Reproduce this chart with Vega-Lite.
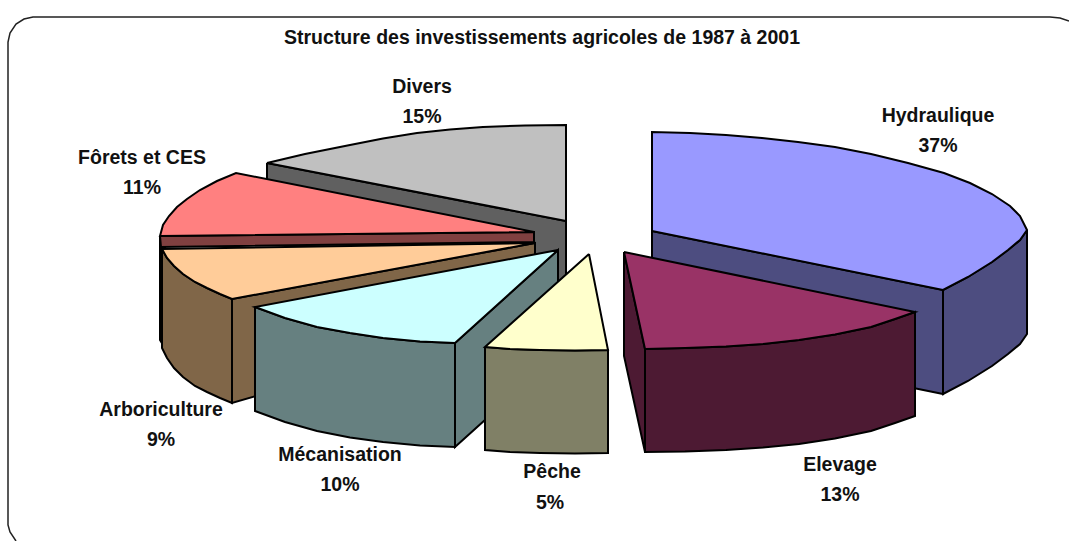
{"$schema":"https://vega.github.io/schema/vega-lite/v6.json","width":1069,"height":541,"autosize":"none","padding":0,"background":"white","config":{"view":{"stroke":null}},
"layer":[
{"data":{"values":[
{"face":"Divers cote","k":1,"x":267,"y":163},{"face":"Divers cote","k":2,"x":566,"y":221},{"face":"Divers cote","k":3,"x":566,"y":277},{"face":"Divers cote","k":4,"x":540,"y":300},{"face":"Divers cote","k":5,"x":267,"y":240},{"face":"Divers cote","k":6,"x":267,"y":163},
{"face":"Divers dessus","k":1,"x":566,"y":221},{"face":"Divers dessus","k":2,"x":566,"y":125},{"face":"Divers dessus","k":3,"x":525,"y":125.5},{"face":"Divers dessus","k":4,"x":483,"y":127},{"face":"Divers dessus","k":5,"x":450,"y":129.5},{"face":"Divers dessus","k":6,"x":417,"y":133},{"face":"Divers dessus","k":7,"x":383,"y":138.5},{"face":"Divers dessus","k":8,"x":350,"y":145},{"face":"Divers dessus","k":9,"x":305,"y":154},{"face":"Divers dessus","k":10,"x":267,"y":163},{"face":"Divers dessus","k":11,"x":566,"y":221},
{"face":"Hydraulique interne","k":1,"x":652,"y":231},{"face":"Hydraulique interne","k":2,"x":943,"y":290},{"face":"Hydraulique interne","k":3,"x":943,"y":394},{"face":"Hydraulique interne","k":4,"x":652,"y":335},{"face":"Hydraulique interne","k":5,"x":652,"y":231},
{"face":"Hydraulique externe","k":1,"x":1027,"y":230},{"face":"Hydraulique externe","k":2,"x":1027,"y":334},{"face":"Hydraulique externe","k":3,"x":1020,"y":344},{"face":"Hydraulique externe","k":4,"x":1008,"y":354},{"face":"Hydraulique externe","k":5,"x":992,"y":366},{"face":"Hydraulique externe","k":6,"x":968,"y":381},{"face":"Hydraulique externe","k":7,"x":943,"y":394},{"face":"Hydraulique externe","k":8,"x":943,"y":290},{"face":"Hydraulique externe","k":9,"x":968,"y":277},{"face":"Hydraulique externe","k":10,"x":992,"y":262},{"face":"Hydraulique externe","k":11,"x":1008,"y":250},{"face":"Hydraulique externe","k":12,"x":1020,"y":240},{"face":"Hydraulique externe","k":13,"x":1027,"y":230},
{"face":"Hydraulique dessus","k":1,"x":652,"y":231},{"face":"Hydraulique dessus","k":2,"x":652,"y":132},{"face":"Hydraulique dessus","k":3,"x":690,"y":133},{"face":"Hydraulique dessus","k":4,"x":726,"y":135},{"face":"Hydraulique dessus","k":5,"x":762,"y":138},{"face":"Hydraulique dessus","k":6,"x":798,"y":142},{"face":"Hydraulique dessus","k":7,"x":835,"y":147},{"face":"Hydraulique dessus","k":8,"x":871,"y":154},{"face":"Hydraulique dessus","k":9,"x":908,"y":163},{"face":"Hydraulique dessus","k":10,"x":944,"y":173},{"face":"Hydraulique dessus","k":11,"x":970,"y":183},{"face":"Hydraulique dessus","k":12,"x":992,"y":194},{"face":"Hydraulique dessus","k":13,"x":1010,"y":206},{"face":"Hydraulique dessus","k":14,"x":1020,"y":216},{"face":"Hydraulique dessus","k":15,"x":1027,"y":230},{"face":"Hydraulique dessus","k":16,"x":1020,"y":240},{"face":"Hydraulique dessus","k":17,"x":1008,"y":250},{"face":"Hydraulique dessus","k":18,"x":992,"y":262},{"face":"Hydraulique dessus","k":19,"x":968,"y":277},{"face":"Hydraulique dessus","k":20,"x":943,"y":290},{"face":"Hydraulique dessus","k":21,"x":652,"y":231},
{"face":"Forets externe","k":1,"x":160,"y":236},{"face":"Forets externe","k":2,"x":160,"y":340},{"face":"Forets externe","k":3,"x":166,"y":350},{"face":"Forets externe","k":4,"x":166,"y":250},{"face":"Forets externe","k":5,"x":160,"y":236},
{"face":"Forets interne","k":1,"x":160,"y":236},{"face":"Forets interne","k":2,"x":534,"y":232},{"face":"Forets interne","k":3,"x":534,"y":242},{"face":"Forets interne","k":4,"x":161,"y":247},{"face":"Forets interne","k":5,"x":160,"y":236},
{"face":"Forets dessus","k":1,"x":534,"y":232},{"face":"Forets dessus","k":2,"x":236,"y":173},{"face":"Forets dessus","k":3,"x":217,"y":181},{"face":"Forets dessus","k":4,"x":200,"y":190},{"face":"Forets dessus","k":5,"x":187,"y":199},{"face":"Forets dessus","k":6,"x":177,"y":207},{"face":"Forets dessus","k":7,"x":169,"y":216},{"face":"Forets dessus","k":8,"x":163,"y":225},{"face":"Forets dessus","k":9,"x":160,"y":236},{"face":"Forets dessus","k":10,"x":534,"y":232},
{"face":"Arboriculture interne","k":1,"x":232,"y":299},{"face":"Arboriculture interne","k":2,"x":535,"y":243},{"face":"Arboriculture interne","k":3,"x":535,"y":315},{"face":"Arboriculture interne","k":4,"x":232,"y":403},{"face":"Arboriculture interne","k":5,"x":232,"y":299},
{"face":"Arboriculture externe","k":1,"x":162,"y":249},{"face":"Arboriculture externe","k":2,"x":162,"y":348},{"face":"Arboriculture externe","k":3,"x":167,"y":358},{"face":"Arboriculture externe","k":4,"x":174,"y":368},{"face":"Arboriculture externe","k":5,"x":183,"y":377},{"face":"Arboriculture externe","k":6,"x":195,"y":386},{"face":"Arboriculture externe","k":7,"x":207,"y":392},{"face":"Arboriculture externe","k":8,"x":220,"y":398},{"face":"Arboriculture externe","k":9,"x":232,"y":403},{"face":"Arboriculture externe","k":10,"x":232,"y":299},{"face":"Arboriculture externe","k":11,"x":220,"y":294},{"face":"Arboriculture externe","k":12,"x":207,"y":288},{"face":"Arboriculture externe","k":13,"x":195,"y":282},{"face":"Arboriculture externe","k":14,"x":183,"y":274},{"face":"Arboriculture externe","k":15,"x":174,"y":266},{"face":"Arboriculture externe","k":16,"x":167,"y":258},{"face":"Arboriculture externe","k":17,"x":162,"y":249},
{"face":"Arboriculture dessus","k":1,"x":535,"y":243},{"face":"Arboriculture dessus","k":2,"x":162,"y":249},{"face":"Arboriculture dessus","k":3,"x":167,"y":258},{"face":"Arboriculture dessus","k":4,"x":174,"y":266},{"face":"Arboriculture dessus","k":5,"x":183,"y":274},{"face":"Arboriculture dessus","k":6,"x":195,"y":282},{"face":"Arboriculture dessus","k":7,"x":207,"y":288},{"face":"Arboriculture dessus","k":8,"x":220,"y":294},{"face":"Arboriculture dessus","k":9,"x":232,"y":299},{"face":"Arboriculture dessus","k":10,"x":535,"y":243},
{"face":"Mecanisation interne","k":1,"x":455,"y":343},{"face":"Mecanisation interne","k":2,"x":558,"y":250},{"face":"Mecanisation interne","k":3,"x":558,"y":354},{"face":"Mecanisation interne","k":4,"x":455,"y":447},{"face":"Mecanisation interne","k":5,"x":455,"y":343},
{"face":"Mecanisation externe","k":1,"x":255,"y":307},{"face":"Mecanisation externe","k":2,"x":255,"y":411},{"face":"Mecanisation externe","k":3,"x":285,"y":422},{"face":"Mecanisation externe","k":4,"x":317,"y":431},{"face":"Mecanisation externe","k":5,"x":350,"y":437.5},{"face":"Mecanisation externe","k":6,"x":383,"y":442},{"face":"Mecanisation externe","k":7,"x":420,"y":445.5},{"face":"Mecanisation externe","k":8,"x":455,"y":447},{"face":"Mecanisation externe","k":9,"x":455,"y":343},{"face":"Mecanisation externe","k":10,"x":420,"y":341.5},{"face":"Mecanisation externe","k":11,"x":383,"y":338},{"face":"Mecanisation externe","k":12,"x":350,"y":333},{"face":"Mecanisation externe","k":13,"x":317,"y":327},{"face":"Mecanisation externe","k":14,"x":285,"y":318},{"face":"Mecanisation externe","k":15,"x":255,"y":307},
{"face":"Mecanisation dessus","k":1,"x":558,"y":250},{"face":"Mecanisation dessus","k":2,"x":255,"y":307},{"face":"Mecanisation dessus","k":3,"x":285,"y":318},{"face":"Mecanisation dessus","k":4,"x":317,"y":327},{"face":"Mecanisation dessus","k":5,"x":350,"y":333},{"face":"Mecanisation dessus","k":6,"x":383,"y":338},{"face":"Mecanisation dessus","k":7,"x":420,"y":341.5},{"face":"Mecanisation dessus","k":8,"x":455,"y":343},{"face":"Mecanisation dessus","k":9,"x":558,"y":250},
{"face":"Peche externe","k":1,"x":485,"y":347},{"face":"Peche externe","k":2,"x":485,"y":450},{"face":"Peche externe","k":3,"x":510,"y":452},{"face":"Peche externe","k":4,"x":540,"y":453},{"face":"Peche externe","k":5,"x":575,"y":453.5},{"face":"Peche externe","k":6,"x":608,"y":453},{"face":"Peche externe","k":7,"x":608,"y":350},{"face":"Peche externe","k":8,"x":575,"y":350.5},{"face":"Peche externe","k":9,"x":540,"y":350},{"face":"Peche externe","k":10,"x":510,"y":349},{"face":"Peche externe","k":11,"x":485,"y":347},
{"face":"Peche dessus","k":1,"x":589,"y":254},{"face":"Peche dessus","k":2,"x":608,"y":350},{"face":"Peche dessus","k":3,"x":575,"y":350.5},{"face":"Peche dessus","k":4,"x":540,"y":350},{"face":"Peche dessus","k":5,"x":510,"y":349},{"face":"Peche dessus","k":6,"x":485,"y":347},{"face":"Peche dessus","k":7,"x":589,"y":254},
{"face":"Elevage interne","k":1,"x":624,"y":252},{"face":"Elevage interne","k":2,"x":645,"y":349},{"face":"Elevage interne","k":3,"x":645,"y":452},{"face":"Elevage interne","k":4,"x":624,"y":356},{"face":"Elevage interne","k":5,"x":624,"y":252},
{"face":"Elevage externe","k":1,"x":645,"y":349},{"face":"Elevage externe","k":2,"x":645,"y":452},{"face":"Elevage externe","k":3,"x":685,"y":451.5},{"face":"Elevage externe","k":4,"x":726,"y":450},{"face":"Elevage externe","k":5,"x":763,"y":447.5},{"face":"Elevage externe","k":6,"x":799,"y":444},{"face":"Elevage externe","k":7,"x":835,"y":438.5},{"face":"Elevage externe","k":8,"x":871,"y":431},{"face":"Elevage externe","k":9,"x":895,"y":423},{"face":"Elevage externe","k":10,"x":915,"y":416},{"face":"Elevage externe","k":11,"x":915,"y":312},{"face":"Elevage externe","k":12,"x":895,"y":319},{"face":"Elevage externe","k":13,"x":871,"y":327},{"face":"Elevage externe","k":14,"x":835,"y":334.5},{"face":"Elevage externe","k":15,"x":799,"y":340},{"face":"Elevage externe","k":16,"x":763,"y":344},{"face":"Elevage externe","k":17,"x":726,"y":346.5},{"face":"Elevage externe","k":18,"x":685,"y":348},{"face":"Elevage externe","k":19,"x":645,"y":349},
{"face":"Elevage dessus","k":1,"x":624,"y":252},{"face":"Elevage dessus","k":2,"x":915,"y":312},{"face":"Elevage dessus","k":3,"x":895,"y":319},{"face":"Elevage dessus","k":4,"x":871,"y":327},{"face":"Elevage dessus","k":5,"x":835,"y":334.5},{"face":"Elevage dessus","k":6,"x":799,"y":340},{"face":"Elevage dessus","k":7,"x":763,"y":344},{"face":"Elevage dessus","k":8,"x":726,"y":346.5},{"face":"Elevage dessus","k":9,"x":685,"y":348},{"face":"Elevage dessus","k":10,"x":645,"y":349},{"face":"Elevage dessus","k":11,"x":624,"y":252}
]},
"mark":{"type":"line","stroke":"black","strokeWidth":2,"strokeJoin":"miter","strokeMiterLimit":4},
"encoding":{
"x":{"field":"x","type":"quantitative","scale":{"domain":[0,1069]},"axis":null},
"y":{"field":"y","type":"quantitative","scale":{"domain":[541,0]},"axis":null},
"order":{"field":"k","type":"quantitative"},
"fill":{"field":"face","type":"nominal","legend":null,"scale":{"domain":["Divers cote","Divers dessus","Hydraulique interne","Hydraulique externe","Hydraulique dessus","Forets externe","Forets interne","Forets dessus","Arboriculture interne","Arboriculture externe","Arboriculture dessus","Mecanisation interne","Mecanisation externe","Mecanisation dessus","Peche externe","Peche dessus","Elevage interne","Elevage externe","Elevage dessus"],"range":["#606060","#c0c0c0","#4d4d80","#4d4d80","#9999ff","#804040","#804040","#ff8080","#806648","#806648","#ffcc99","#668080","#668080","#ccffff","#808066","#ffffcc","#4d1a33","#4d1a33","#993366"]}}
}},
{"data":{"values":[{"k":1,"x":1069,"y":21},{"k":2,"x":1060,"y":18},{"k":3,"x":1050,"y":17},{"k":4,"x":33,"y":17},{"k":5,"x":24,"y":19},{"k":6,"x":16,"y":24},{"k":7,"x":10,"y":33},{"k":8,"x":8,"y":42},{"k":9,"x":8,"y":525},{"k":10,"x":10,"y":532},{"k":11,"x":16,"y":541}]},
"mark":{"type":"line","stroke":"#222222","strokeWidth":1.5},
"encoding":{
"x":{"field":"x","type":"quantitative","scale":{"domain":[0,1069]},"axis":null},
"y":{"field":"y","type":"quantitative","scale":{"domain":[541,0]},"axis":null},
"order":{"field":"k","type":"quantitative"}}},
{"data":{"values":[
{"label":"Structure des investissements agricoles de 1987 à 2001","x":542,"y":44},
{"label":"Divers","x":422,"y":93},{"label":"15%","x":422,"y":123},
{"label":"Hydraulique","x":938,"y":122},{"label":"37%","x":938,"y":152},
{"label":"Fôrets et CES","x":142,"y":164},{"label":"11%","x":142,"y":194},
{"label":"Arboriculture","x":161,"y":416},{"label":"9%","x":161,"y":446},
{"label":"Mécanisation","x":340,"y":461},{"label":"10%","x":340,"y":491},
{"label":"Pêche","x":552,"y":478},{"label":"5%","x":550,"y":509},
{"label":"Elevage","x":840,"y":471},{"label":"13%","x":840,"y":501}
]},
"mark":{"type":"text","font":"Liberation Sans","fontWeight":"bold","fontSize":19.5,"color":"#111111","align":"center","baseline":"alphabetic"},
"encoding":{
"x":{"field":"x","type":"quantitative","scale":{"domain":[0,1069]},"axis":null},
"y":{"field":"y","type":"quantitative","scale":{"domain":[541,0]},"axis":null},
"text":{"field":"label","type":"nominal"}}}
]}
